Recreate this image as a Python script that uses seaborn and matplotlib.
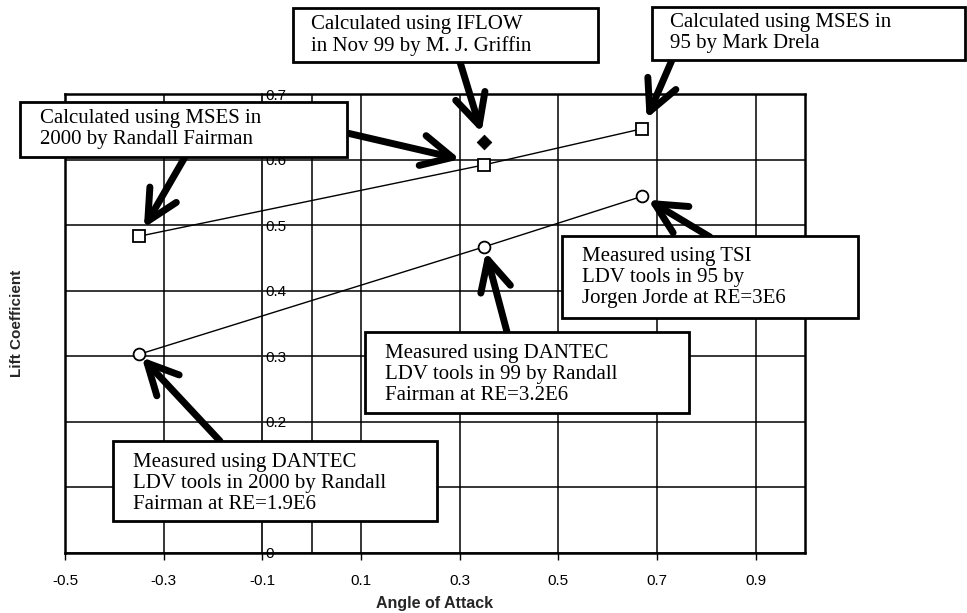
import matplotlib
matplotlib.use('Agg')
import matplotlib.pyplot as plt
from matplotlib.patches import Rectangle
import seaborn as sns
import pandas as pd

# values
aoa_mses = [-0.35, 0.35, 0.67]
cl_mses = [0.483, 0.592, 0.647]
aoa_iflow = [0.35]
cl_iflow = [0.627]
aoa_ldv = [-0.35, 0.35, 0.67]
cl_ldv = [0.303, 0.467, 0.544]

x_ticks = [-0.5, -0.3, -0.1, 0.1, 0.3, 0.5, 0.7, 0.9]
x_labels = ['-0.5', '-0.3', '-0.1', '0.1', '0.3', '0.5', '0.7', '0.9']
y_ticks = [0, 0.1, 0.2, 0.3, 0.4, 0.5, 0.6, 0.7]
# 0.1 sits under the lower box in the original, so it is left blank
y_labels = ['0', '', '0.2', '0.3', '0.4', '0.5', '0.6', '0.7']

df_mses = pd.DataFrame({'aoa': aoa_mses, 'cl': cl_mses})
df_ldv = pd.DataFrame({'aoa': aoa_ldv, 'cl': cl_ldv})
df_iflow = pd.DataFrame({'aoa': aoa_iflow, 'cl': cl_iflow})

sns.set_theme(style='white')
plt.rcParams['font.family'] = ['Liberation Sans', 'DejaVu Sans']
serif = ['Liberation Serif', 'DejaVu Serif']

W, H = 967, 613
fig = plt.figure(figsize=(W / 100, H / 100), dpi=100)
ax = fig.add_axes([65 / W, 1 - 553 / H, 740 / W, 459 / H])

def fpx(x, y):
    # pixel position (from top left) -> figure fraction
    return x / W, 1 - y / H

#data
sns.lineplot(data=df_mses, x='aoa', y='cl', ax=ax, color='black', lw=1,
             marker='s', markersize=8.5, markerfacecolor='white',
             markeredgecolor='black', markeredgewidth=1.3, zorder=4)
sns.lineplot(data=df_ldv, x='aoa', y='cl', ax=ax, color='black', lw=1,
             marker='o', markersize=8.5, markerfacecolor='white',
             markeredgecolor='black', markeredgewidth=1.3, zorder=4)
sns.scatterplot(data=df_iflow, x='aoa', y='cl', ax=ax, marker='D', s=55,
                color='black', edgecolor='black', zorder=4)

#axes
ax.set_xlim(-0.5, 1.0)
ax.set_ylim(0, 0.7)
ax.set_xticks(x_ticks)
ax.set_xticklabels(x_labels, fontsize=11)
ax.set_yticks(y_ticks)
ax.set_yticklabels(y_labels, fontsize=10)
ax.grid(True, color='black', lw=1.1)
ax.axvline(0, color='black', lw=1.1, zorder=1)
ax.axvline(1.0, color='black', lw=1.8, clip_on=False, zorder=1)

ax.yaxis.tick_right()
ax.spines['right'].set_position(('data', -0.1))
ax.spines['right'].set_linewidth(1.1)
for s in ['left', 'top', 'bottom']:
    ax.spines[s].set_color('black')
    ax.spines[s].set_linewidth(1.8)
ax.tick_params(axis='y', length=0, pad=2, colors='black')
ax.tick_params(axis='x', bottom=True, direction='out', length=5, width=1,
               pad=10, colors='black')

ax.set_xlabel('Angle of Attack', fontsize=11.5, fontweight='bold')
ax.xaxis.set_label_coords(0.5, -0.093)
ax.set_ylabel('Lift Coefficient', fontsize=11, fontweight='bold')
ax.yaxis.set_label_position('left')
ax.yaxis.set_label_coords(-0.055, 0.5)

#annotation boxes: text, box (left, top, right, bottom) in px, text anchor px
notes = [
    ('Calculated using IFLOW\nin Nov 99 by M. J. Griffin', (293, 8, 598, 62), (311, 15)),
    ('Calculated using MSES in\n95 by Mark Drela', (652, 7, 965, 60), (670, 13)),
    ('Calculated using MSES in\n2000 by Randall Fairman', (20, 102, 347, 157), (40, 109)),
    ('Measured using TSI\nLDV tools in 95 by\nJorgen Jorde at RE=3E6', (562, 236, 858, 318), (582, 247)),
    ('Measured using DANTEC\nLDV tools in 99 by Randall\nFairman at RE=3.2E6', (365, 332, 689, 413), (385, 344)),
    ('Measured using DANTEC\nLDV tools in 2000 by Randall\nFairman at RE=1.9E6', (113, 441, 437, 521), (133, 453)),
]
for txt, (x0, y0, x1, y1), (tx, ty) in notes:
    fig.add_artist(Rectangle(fpx(x0, y1), (x1 - x0) / W, (y1 - y0) / H,
                             transform=fig.transFigure, facecolor='white',
                             edgecolor='black', lw=2, zorder=5))
    fig.text(*fpx(tx, ty), txt, ha='left', va='top', fontsize=15,
             family=serif, linespacing=1.15, color='black', zorder=6)

#arrows: start px, target point, shrink (pt)
arrows = [
    ((460, 62), (aoa_iflow[0], cl_iflow[0]), 7),
    ((347, 133), (aoa_mses[1], cl_mses[1]), 18),
    ((185, 157), (aoa_mses[0], cl_mses[0]), 7),
    ((672, 60), (aoa_mses[2], cl_mses[2]), 8),
    ((710, 237), (aoa_ldv[2], cl_ldv[2]), 5),
    ((507, 332), (aoa_ldv[1], cl_ldv[1]), 4),
    ((220, 441), (aoa_ldv[0], cl_ldv[0]), 3),
]
for start, target, shrink in arrows:
    ax.annotate('', xy=target, xycoords='data', xytext=fpx(*start),
                textcoords='figure fraction', annotation_clip=False,
                arrowprops=dict(arrowstyle='->,head_length=1.1,head_width=0.55',
                                lw=5, color='black', shrinkA=0, shrinkB=shrink,
                                mutation_scale=20), zorder=5)

fig.savefig('out.png', dpi=100)
